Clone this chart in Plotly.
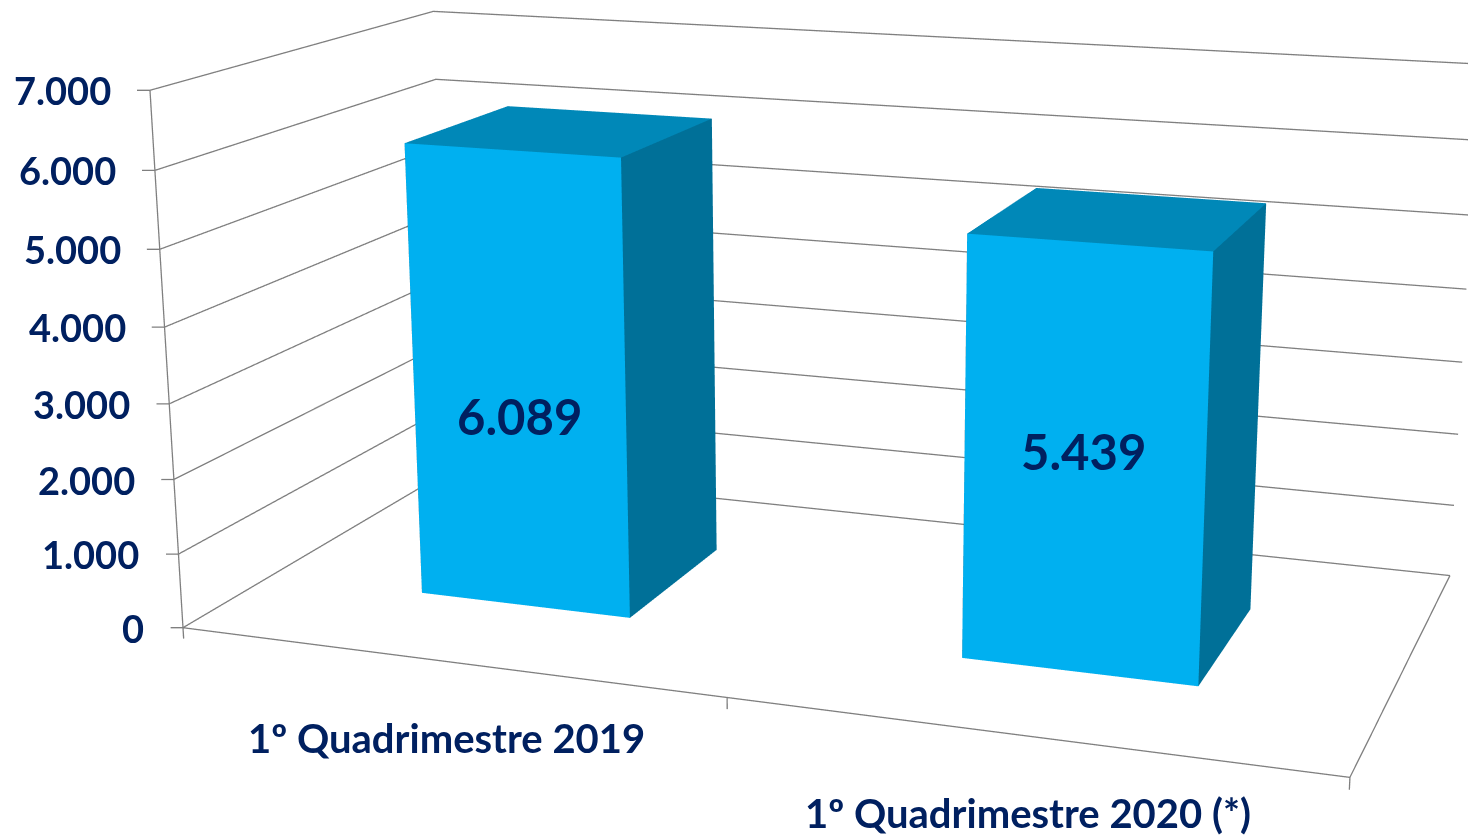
import numpy as np
import plotly.graph_objects as go

# data
categories = ["1º Quadrimestre 2019", "1º Quadrimestre 2020 (*)"]
values = [6089, 5439]
value_labels = ["6.089", "5.439"]
z_ticks = [0, 1000, 2000, 3000, 4000, 5000, 6000, 7000]
z_tick_labels = ["0", "1.000", "2.000", "3.000", "4.000", "5.000", "6.000", "7.000"]

# height (in axis units) where the value labels sit on the bars
label_heights = [2600, 2850]

NAVY = "#002060"
GRID = "#7f7f7f"
FRONT, TOP, SIDE = "#00b0f0", "#0088b8", "#007098"
FONT = "Lato"

# plotly's perspective has a fixed 45deg field of view, so the scene is drawn
# in a taller canvas and only the window the page shows is photographed
PW, PH = 2400, 2475
principal = (836, 415)  # where the view axis lands in the visible window

fig = go.Figure()

# 3D columns (gap width / gap depth 150 -> bar 0.4 of a category)
half_w = 0.2
y0, y1 = 0.3, 0.7
for i, v in enumerate(values):
    xa, xb = i + 0.5 - half_w, i + 0.5 + half_w
    xs = [xa, xb, xb, xa, xa, xb, xb, xa]
    ys = [y0, y0, y1, y1, y0, y0, y1, y1]
    zs = [0, 0, 0, 0, v, v, v, v]
    faces = [
        (0, 1, 5, FRONT), (0, 5, 4, FRONT),
        (4, 5, 6, TOP), (4, 6, 7, TOP),
        (1, 2, 6, SIDE), (1, 6, 5, SIDE),
        (0, 3, 7, SIDE), (0, 7, 4, SIDE),
        (3, 2, 6, SIDE), (3, 6, 7, SIDE),
        (0, 1, 2, SIDE), (0, 2, 3, SIDE),
    ]
    fig.add_trace(go.Mesh3d(
        x=xs, y=ys, z=zs,
        i=[f[0] for f in faces], j=[f[1] for f in faces], k=[f[2] for f in faces],
        facecolor=[f[3] for f in faces],
        flatshading=True,
        lighting=dict(ambient=1, diffuse=0, specular=0, roughness=1, fresnel=0),
        hoverinfo="skip", showscale=False,
    ))

zmax = z_ticks[-1]
n = len(categories)

# gridlines on the side wall and back wall
gx, gy, gz = [], [], []
for t in z_ticks:
    gx += [0, 0, n, None]
    gy += [0, 1, 1, None]
    gz += [t, t, t, None]
fig.add_trace(go.Scatter3d(
    x=gx, y=gy, z=gz, mode="lines", line=dict(color=GRID, width=2.6),
    connectgaps=False, hoverinfo="skip", showlegend=False,
))

# floor border, value axis line and the small tick marks
tx, ty, tz = [0, 0, n, n, None], [0, 0, 0, 1, None], [zmax, 0, 0, 0, None]
for t in z_ticks:
    tx += [0, -0.02, None]
    ty += [0, -0.007, None]
    tz += [t, t, None]
for c in range(n + 1):
    tx += [c, c, None]
    ty += [0, 0, None]
    tz += [0, -150, None]
fig.add_trace(go.Scatter3d(
    x=tx, y=ty, z=tz, mode="lines", line=dict(color=GRID, width=2.6),
    connectgaps=False, hoverinfo="skip", showlegend=False,
))

# camera: seen from the front right, a little above
az, el = np.radians(19.56), np.radians(15.4)
fwd = np.array([-np.sin(az) * np.cos(el), np.cos(az) * np.cos(el), -np.sin(el)])
eye = np.array([1.8035, -5.058, 1.344])
center = eye + 5.6 * fwd

annotations = []
for t, lab in zip(z_ticks, z_tick_labels):
    annotations.append(dict(
        x=0, y=0, z=t, text="<b>%s</b>" % lab, showarrow=False,
        xanchor="right", yanchor="middle", xshift=-37,
        font=dict(family=FONT, size=38, color=NAVY),
    ))
for i, (cat, lab, lz) in enumerate(zip(categories, value_labels, label_heights)):
    annotations.append(dict(
        x=i + 0.5, y=0, z=0, text="<b>%s</b>" % cat, showarrow=False,
        xanchor="center", yanchor="top", yshift=-51,
        font=dict(family=FONT, size=40, color=NAVY),
    ))
    annotations.append(dict(
        x=i + 0.5, y=y0, z=lz, text="<b>%s</b>" % lab, showarrow=False,
        xanchor="center", yanchor="middle",
        font=dict(family=FONT, size=49, color=NAVY),
    ))

# ranges padded evenly so tick marks are not clipped; aspect scaled to match
pad_x, pad_y, pad_z = 0.1, 0.1, 350
axis_common = dict(
    title=dict(text=""), showticklabels=False, ticks="", showspikes=False,
    showbackground=False, zeroline=False, showline=False, showgrid=False,
)
fig.update_layout(
    width=PW, height=PH,
    margin=dict(l=0, r=0, t=0, b=0),
    paper_bgcolor="white",
    showlegend=False,
    hovermode=False,
    scene=dict(
        domain=dict(x=[0, 1], y=[0, 1]),
        xaxis=dict(range=[-pad_x, n + pad_x], **axis_common),
        yaxis=dict(range=[-pad_y, 1 + pad_y], **axis_common),
        zaxis=dict(range=[-pad_z, zmax + pad_z], **axis_common),
        aspectmode="manual",
        aspectratio=dict(
            x=2.161 * (n + 2 * pad_x) / n,
            y=1.09 * (1 + 2 * pad_y),
            z=1.0 * (zmax + 2 * pad_z) / zmax,
        ),
        camera=dict(
            eye=dict(x=eye[0], y=eye[1], z=eye[2]),
            center=dict(x=center[0], y=center[1], z=center[2]),
            up=dict(x=0, y=0, z=1),
            projection=dict(type="perspective"),
        ),
        annotations=annotations,
    ),
)

shift_js = (
    "var gd=document.getElementById('{plot_id}');"
    "gd.style.position='absolute';"
    "gd.style.left='-%dpx';gd.style.top='-%dpx';"
    "document.body.style.overflow='hidden';"
    % (round(PW / 2 - principal[0]), round(PH / 2 - principal[1]))
)

fig.write_html("out.html", config={"displayModeBar": False}, post_script=shift_js)
